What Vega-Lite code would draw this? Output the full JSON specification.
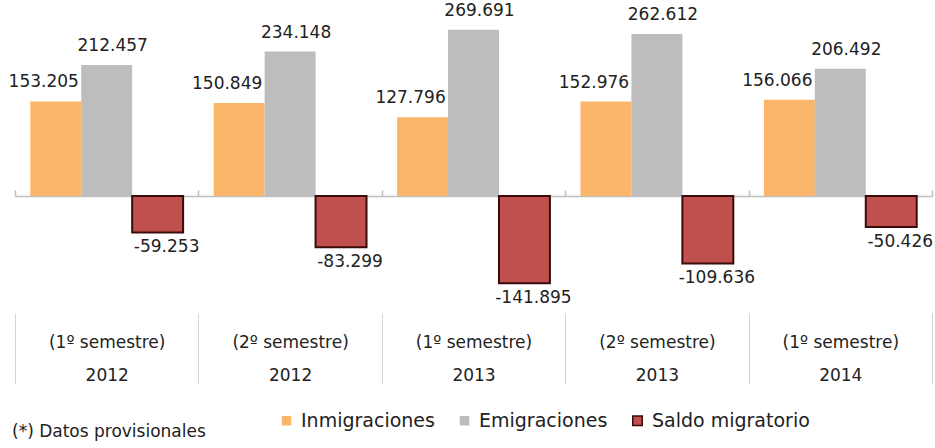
{
  "$schema": "https://vega.github.io/schema/vega-lite/v6.json",
  "autosize": {"type": "none"},
  "padding": {"left": 15, "top": 11, "right": 3, "bottom": 135},
  "width": 917,
  "height": 302,
  "config": {
    "view": {"stroke": null},
    "locale": {"number": {"decimal": ",", "thousands": ".", "grouping": [3], "currency": ["", " €"], "minus": "-"}},
    "font": "DejaVu Sans"
  },
  "title": {
    "text": "(*) Datos provisionales",
    "orient": "bottom",
    "anchor": "start",
    "frame": "group",
    "font": "DejaVu Sans",
    "fontSize": 17,
    "fontWeight": "normal",
    "color": "#222222",
    "baseline": "top",
    "offset": -7,
    "dx": -3
  },
  "data": {
    "values": [
      {"periodo": "(1º semestre)\n2012", "serie": "Inmigraciones", "valor": 153205},
      {"periodo": "(1º semestre)\n2012", "serie": "Emigraciones", "valor": 212457},
      {"periodo": "(1º semestre)\n2012", "serie": "Saldo migratorio", "valor": -59253},
      {"periodo": "(2º semestre)\n2012", "serie": "Inmigraciones", "valor": 150849},
      {"periodo": "(2º semestre)\n2012", "serie": "Emigraciones", "valor": 234148},
      {"periodo": "(2º semestre)\n2012", "serie": "Saldo migratorio", "valor": -83299},
      {"periodo": "(1º semestre)\n2013", "serie": "Inmigraciones", "valor": 127796},
      {"periodo": "(1º semestre)\n2013", "serie": "Emigraciones", "valor": 269691},
      {"periodo": "(1º semestre)\n2013", "serie": "Saldo migratorio", "valor": -141895},
      {"periodo": "(2º semestre)\n2013", "serie": "Inmigraciones", "valor": 152976},
      {"periodo": "(2º semestre)\n2013", "serie": "Emigraciones", "valor": 262612},
      {"periodo": "(2º semestre)\n2013", "serie": "Saldo migratorio", "valor": -109636},
      {"periodo": "(1º semestre)\n2014", "serie": "Inmigraciones", "valor": 156066},
      {"periodo": "(1º semestre)\n2014", "serie": "Emigraciones", "valor": 206492},
      {"periodo": "(1º semestre)\n2014", "serie": "Saldo migratorio", "valor": -50426}
    ]
  },
  "resolve": {"axis": {"x": "independent"}},
  "encoding": {
    "y": {"field": "valor", "type": "quantitative", "scale": {"domain": [-190000, 300000], "nice": false, "zero": true}, "axis": null},
    "xOffset": {"field": "serie", "type": "nominal", "sort": ["Inmigraciones", "Emigraciones", "Saldo migratorio"], "scale": {"paddingInner": 0, "paddingOuter": 0.3}}
  },
  "layer": [
    {
      "mark": {"type": "bar", "strokeWidth": 2},
      "encoding": {
        "x": {
          "field": "periodo", "type": "nominal", "sort": null,
          "scale": {"paddingInner": 0, "paddingOuter": 0},
          "axis": {
            "orient": "bottom", "title": null, "domain": false,
            "ticks": true, "tickBand": "extent", "tickSize": 71, "tickColor": "#d4d4d4", "tickWidth": 1,
            "labelExpr": "split(datum.label, '\\n')",
            "labelAngle": 0, "labelFont": "DejaVu Sans", "labelFontSize": 17, "labelColor": "#222222",
            "labelLineHeight": 33, "labelPadding": -50, "labelBaseline": "top", "labelOverlap": false
          }
        },
        "color": {
          "field": "serie", "type": "nominal",
          "sort": ["Inmigraciones", "Emigraciones", "Saldo migratorio"],
          "scale": {"domain": ["Inmigraciones", "Emigraciones", "Saldo migratorio"], "range": ["#fbb66b", "#bdbdbd", "#c0504d"]},
          "legend": {
            "title": null, "orient": "none", "legendX": 262, "legendY": 400, "direction": "horizontal",
            "labelFont": "DejaVu Sans", "labelFontSize": 19, "labelColor": "#222222",
            "symbolType": "square", "symbolSize": 90, "symbolStrokeWidth": 1.5,
            "labelOffset": 5, "columnPadding": 20
          }
        },
        "stroke": {
          "field": "serie", "type": "nominal",
          "sort": ["Inmigraciones", "Emigraciones", "Saldo migratorio"],
          "scale": {"domain": ["Inmigraciones", "Emigraciones", "Saldo migratorio"], "range": ["transparent", "transparent", "#3a0c0c"]},
          "legend": {
            "title": null, "orient": "none", "legendX": 262, "legendY": 400, "direction": "horizontal",
            "labelFont": "DejaVu Sans", "labelFontSize": 19, "labelColor": "#222222",
            "symbolType": "square", "symbolSize": 90, "symbolStrokeWidth": 1.5,
            "labelOffset": 5, "columnPadding": 20
          }
        }
      }
    },
    {
      "mark": {"type": "rule", "opacity": 0},
      "encoding": {
        "x": {
          "field": "periodo", "type": "nominal", "sort": null,
          "axis": {
            "orient": "top", "offset": -185, "title": null, "labels": false,
            "domain": true, "domainColor": "#bfbfbf", "domainWidth": 1.5,
            "ticks": true, "tickBand": "extent", "tickSize": 6, "tickColor": "#bfbfbf", "tickWidth": 1.5
          }
        }
      }
    },
    {
      "transform": [{"filter": "datum.serie === 'Inmigraciones'"}],
      "mark": {"type": "text", "baseline": "bottom", "dy": -10, "dx": -12, "font": "DejaVu Sans", "fontSize": 17, "color": "#222222"},
      "encoding": {
        "x": {"field": "periodo", "type": "nominal", "sort": null, "axis": null},
        "text": {"field": "valor", "type": "quantitative", "format": ","}
      }
    },
    {
      "transform": [{"filter": "datum.serie === 'Emigraciones'"}],
      "mark": {"type": "text", "baseline": "bottom", "dy": -10, "dx": 6, "font": "DejaVu Sans", "fontSize": 17, "color": "#222222"},
      "encoding": {
        "x": {"field": "periodo", "type": "nominal", "sort": null, "axis": null},
        "text": {"field": "valor", "type": "quantitative", "format": ","}
      }
    },
    {
      "transform": [{"filter": "datum.serie === 'Saldo migratorio'"}],
      "mark": {"type": "text", "baseline": "top", "dy": 7, "dx": 9, "font": "DejaVu Sans", "fontSize": 17, "color": "#222222"},
      "encoding": {
        "x": {"field": "periodo", "type": "nominal", "sort": null, "axis": null},
        "text": {"field": "valor", "type": "quantitative", "format": ","}
      }
    }
  ]
}
